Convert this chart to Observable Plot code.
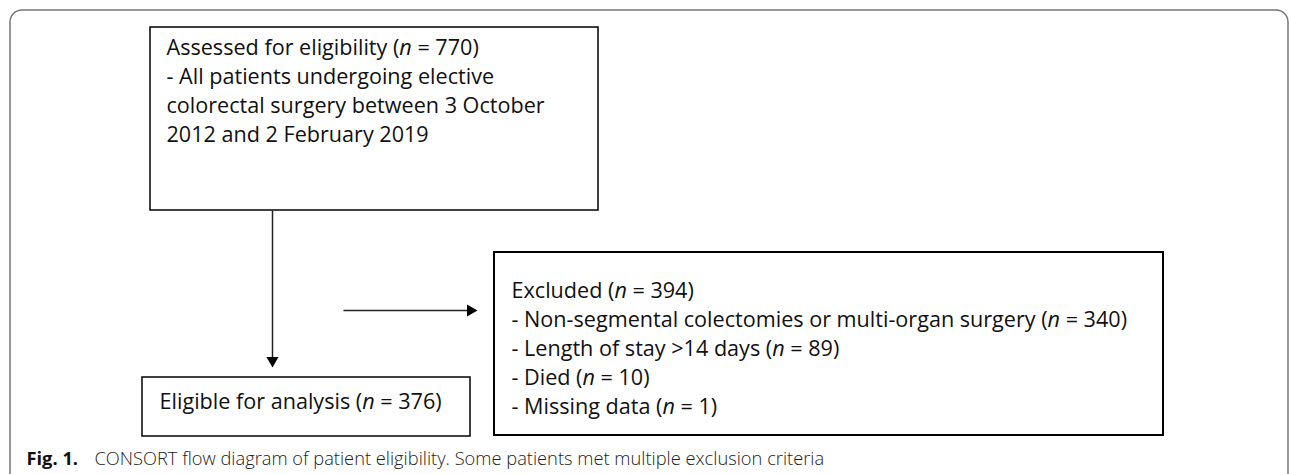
<!DOCTYPE html>
<html>
<head>
<meta charset="utf-8">
<script src="https://cdn.jsdelivr.net/npm/d3@7"></script>
<script src="https://cdn.jsdelivr.net/npm/@observablehq/plot@0.6"></script>
<style>
  html, body { margin: 0; padding: 0; background: #fff; }
  #chart svg { display: block; }
</style>
</head>
<body>
<div id="chart"></div>
<script>
// ---- Data (content of the CONSORT diagram) ----
const stageLabels = ["Assessed for eligibility", "Excluded", "Eligible for analysis"];
const stageCounts = [770, 394, 376];
const assessedNote = [
  "- All patients undergoing elective",
  "colorectal surgery between 3 October",
  "2012 and 2 February 2019"
];
const exclusionReasons = [
  "Non-segmental colectomies or multi-organ surgery",
  "Length of stay >14 days",
  "Died",
  "Missing data"
];
const exclusionCounts = [340, 89, 10, 1];
const captionLabel = "Fig. 1.";
const captionText = "CONSORT flow diagram of patient eligibility. Some patients met multiple exclusion criteria";

// ---- Layout (pixel positions) ----
const W = 1290, H = 474;
const boxes = [
  {x1: 150, y1: 27, x2: 598, y2: 210, sw: 1.5},   // assessed
  {x1: 494, y1: 252, x2: 1163, y2: 435, sw: 2},   // excluded
  {x1: 142, y1: 377, x2: 470, y2: 436, sw: 1.5}   // eligible
];
const lineGap = 29;
const textLines = [];
textLines.push({text: `${stageLabels[0]} (n = ${stageCounts[0]})`, x: 166, y: 54});
assessedNote.forEach((t, i) => textLines.push({text: t, x: 166, y: 54 + lineGap * (i + 1)}));
textLines.push({text: `${stageLabels[1]} (n = ${stageCounts[1]})`, x: 511, y: 297});
exclusionReasons.forEach((r, i) => textLines.push({text: `- ${r} (n = ${exclusionCounts[i]})`, x: 511, y: 297 + lineGap * (i + 1)}));
textLines.push({text: `${stageLabels[2]} (n = ${stageCounts[2]})`, x: 159, y: 408});

const links = [
  {x1: 272, y1: 210, x2: 272, y2: 357},
  {x1: 343, y1: 310, x2: 467, y2: 310}
];
const heads = [
  {x: 272, y: 360, rotate: 180},
  {x: 470, y: 310, rotate: 90}
];

const FONT = "'Open Sans', Lato, sans-serif";

const chart = Plot.plot({
  width: W,
  height: H,
  margin: 0,
  style: {fontFamily: FONT, background: "#fff", color: "#000"},
  x: {domain: [0, W], range: [0, W], axis: null},
  y: {domain: [0, H], range: [0, H], axis: null},
  marks: [
    // outer rounded frame
    Plot.rect([{}], {x1: 10, x2: 1288, y1: 10, y2: 500, rx: 12, fill: "none", stroke: "#777", strokeWidth: 1.5}),
    // boxes
    Plot.rect(boxes, {x1: "x1", x2: "x2", y1: "y1", y2: "y2", fill: "white", stroke: "#000", strokeWidth: d => d.sw}),
    // connector lines
    Plot.link(links, {x1: "x1", y1: "y1", x2: "x2", y2: "y2", stroke: "#222", strokeWidth: 1.5}),
    // arrow heads
    Plot.dot(heads, {x: "x", y: "y", rotate: "rotate", symbol: "triangle", r: 4.5, fill: "#000", stroke: "none"}),
    // box texts
    Plot.text(textLines, {x: "x", y: "y", text: "text", textAnchor: "start", lineAnchor: "bottom", fontSize: 21.6, fill: "#111"}),
    // caption
    Plot.text([captionLabel], {x: 26, y: 464, text: d => d, textAnchor: "start", lineAnchor: "bottom", fontSize: 18.3, fontWeight: "bold", fill: "#111"}),
    Plot.text([captionText], {x: 94, y: 464, text: d => d, textAnchor: "start", lineAnchor: "bottom", fontSize: 18.3, fontWeight: 300, fill: "#222"})
  ]
});

// italicize the "n" in "(n = ...)"
chart.querySelectorAll("text").forEach(t => {
  const s = t.textContent;
  const idx = s.indexOf("(n =");
  if (idx < 0 || t.children.length) return;
  t.textContent = "";
  t.appendChild(document.createTextNode(s.slice(0, idx + 1)));
  const ts = document.createElementNS("http://www.w3.org/2000/svg", "tspan");
  ts.setAttribute("font-style", "italic");
  ts.textContent = "n";
  t.appendChild(ts);
  t.appendChild(document.createTextNode(s.slice(idx + 2)));
});

document.getElementById("chart").appendChild(chart);
</script>
</body>
</html>
